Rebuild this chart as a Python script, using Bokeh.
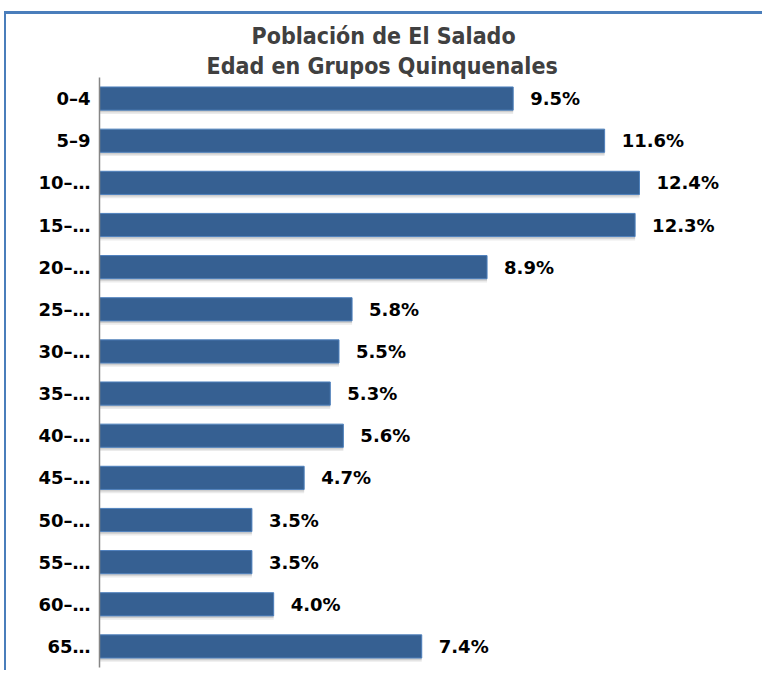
from bokeh.plotting import figure
from bokeh.models import ColumnDataSource, FactorRange, Range1d, Title
from bokeh.transform import dodge
from bokeh.core.properties import value
from bokeh.embed import file_html
from bokeh.resources import INLINE

# Data
categories = ["0–4", "5–9", "10–…", "15–…", "20–…", "25–…", "30–…",
              "35–…", "40–…", "45–…", "50–…", "55–…", "60–…", "65…"]
values = [9.5, 11.6, 12.4, 12.3, 8.9, 5.8, 5.5, 5.3, 5.6, 4.7, 3.5, 3.5, 4.0, 7.4]
value_labels = ["9.5%", "11.6%", "12.4%", "12.3%", "8.9%", "5.8%", "5.5%",
                "5.3%", "5.6%", "4.7%", "3.5%", "3.5%", "4.0%", "7.4%"]
title_line1 = "Población de El Salado"
title_line2 = "Edad en Grupos Quinquenales"

src = ColumnDataSource(dict(cat=categories, val=values, lab=value_labels))

yr = FactorRange(factors=list(reversed(categories)), range_padding=0)

p = figure(width=758, height=659, y_range=yr, x_range=Range1d(0, 14.72),
           output_backend="svg", toolbar_location=None,
           min_border_left=93, min_border_right=24, min_border_top=63,
           min_border_bottom=6)

p.title = Title(text=title_line1, align="left", text_font="DejaVu Sans Condensed",
                text_font_size="23px", text_font_style="bold", text_color="#404040",
                standoff=8, offset=152)
p.add_layout(Title(text=title_line2, align="left", text_font="DejaVu Sans Condensed",
                   text_font_size="23px", text_font_style="bold", text_color="#404040",
                   standoff=-3, offset=107), "above")

# shadows
p.hbar(y=dodge("cat", -0.05, range=yr), right="val", left=0, height=0.55, source=src,
       fill_color="#000000", fill_alpha=0.12, line_color=None)
p.hbar(y=dodge("cat", -0.09, range=yr), right="val", left=0, height=0.55, source=src,
       fill_color="#000000", fill_alpha=0.08, line_color=None)
# bars
p.hbar(y="cat", right="val", left=0, height=0.55, source=src,
       fill_color="#366092", line_color="#4f81bd", line_width=1)

p.text(x="val", y="cat", text="lab", source=src, x_offset=17,
       text_baseline="middle", text_align="left",
       text_font=value("DejaVu Sans"), text_font_size="18px",
       text_font_style="bold", text_color="#000000")

p.xaxis.visible = False
p.xgrid.grid_line_color = None
p.ygrid.grid_line_color = None
p.outline_line_color = None

ya = p.yaxis[0]
ya.axis_line_color = "#868686"
ya.axis_line_width = 1.5
ya.major_tick_line_color = None
ya.minor_tick_line_color = None
ya.major_label_standoff = 3
ya.major_label_text_font = "DejaVu Sans"
ya.major_label_text_font_size = "18px"
ya.major_label_text_font_style = "bold"
ya.major_label_text_color = "#000000"

p.margin = (11, 0, 0, 4)
p.styles = {"border-top": "3px solid #4a7ebb", "border-left": "2px solid #4a7ebb"}

open("out.html", "w").write(file_html(p, INLINE))
